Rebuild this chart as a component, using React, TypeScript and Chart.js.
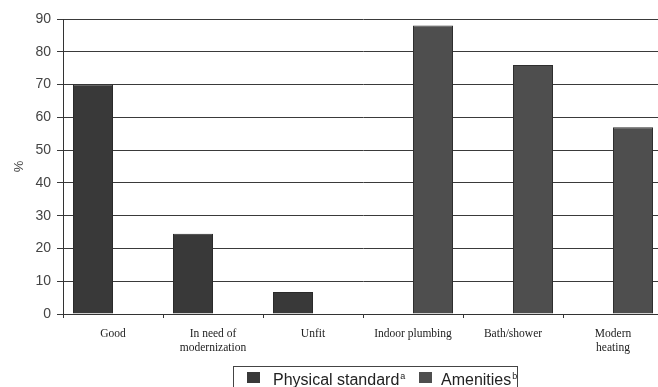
import React, { useEffect, useRef } from "react";
import { Chart, registerables } from "chart.js";

Chart.register(...registerables);

const categories: (string | string[])[] = [
  "Good",
  ["In need of", "modernization"],
  "Unfit",
  "Indoor plumbing",
  "Bath/shower",
  ["Modern", "heating"],
];
const physicalStandard: (number | null)[] = [70, 24.5, 6.7, null, null, null];
const amenities: (number | null)[] = [null, null, null, 88, 76, 57];
const yTicks = [0, 10, 20, 30, 40, 50, 60, 70, 80, 90];

export default function App() {
  const ref = useRef<HTMLCanvasElement | null>(null);

  useEffect(() => {
    if (!ref.current) return;
    const chart = new Chart(ref.current, {
      type: "bar",
      data: {
        labels: categories,
        datasets: [
          {
            label: "Physical standard",
            data: physicalStandard,
            backgroundColor: "#393939",
            borderColor: "#2a2a2a",
            borderWidth: 1,
            categoryPercentage: 0.8,
            barPercentage: 1.0,
          },
          {
            label: "Amenities",
            data: amenities,
            backgroundColor: "#4e4e4e",
            borderColor: "#2e2e2e",
            borderWidth: 1,
            categoryPercentage: 0.8,
            barPercentage: 1.0,
          },
        ],
      },
      options: {
        animation: false,
        responsive: false,
        maintainAspectRatio: false,
        layout: { padding: { top: 19, right: 2, bottom: 0, left: 0 } },
        plugins: {
          legend: { display: false },
          tooltip: { enabled: false },
        },
        scales: {
          x: {
            offset: true,
            grid: {
              display: true,
              offset: true,
              drawOnChartArea: false,
              drawTicks: true,
              tickLength: 4,
              color: "#333",
            },
            border: { display: true, color: "#333", width: 1 },
            ticks: {
              color: "#222",
              font: { family: "'Liberation Serif', 'Times New Roman', serif", size: 11.5 },
              padding: 9,
              maxRotation: 0,
              autoSkip: false,
            },
            afterFit: (s: any) => {
              s.height = 387 - 314;
            },
          },
          y: {
            min: 0,
            max: 90,
            afterBuildTicks: (s: any) => {
              s.ticks = yTicks.map((v) => ({ value: v }));
            },
            grid: {
              color: "#3a3a3a",
              lineWidth: 1,
              tickLength: 6,
            },
            border: { display: true, color: "#333", width: 1 },
            ticks: {
              color: "#444",
              font: { family: "'Liberation Sans', Arial, sans-serif", size: 14 },
              padding: 6,
            },
            title: {
              display: true,
              text: "%",
              color: "#444",
              font: { family: "'Liberation Sans', Arial, sans-serif", size: 13 },
              padding: { top: 12, bottom: 0 },
            },
            afterFit: (s: any) => {
              s.width = 63;
            },
          },
        },
      },
    });
    return () => chart.destroy();
  }, []);

  const legendFont = "'Liberation Sans', Arial, sans-serif";
  const textStyle: React.CSSProperties = {
    position: "absolute",
    top: 4,
    lineHeight: "18px",
    whiteSpace: "nowrap",
  };
  const supStyle: React.CSSProperties = {
    fontSize: 9,
    position: "relative",
    top: -6,
    marginLeft: 1,
  };
  return (
    <div style={{ position: "fixed", left: 0, top: 0, width: 665, height: 387, background: "#fff" }}>
      <canvas ref={ref} width={665} height={387} style={{ display: "block" }} />
      <div
        style={{
          position: "absolute",
          left: 233,
          top: 366,
          width: 285,
          height: 30,
          border: "1px solid #444",
          boxSizing: "border-box",
          fontFamily: legendFont,
          fontSize: 16,
          color: "#222",
        }}
      >
        <span style={{ position: "absolute", left: 13, top: 5, width: 13, height: 11, background: "#393939" }} />
        <span style={{ ...textStyle, left: 39 }}>
          Physical standard<span style={supStyle}>a</span>
        </span>
        <span style={{ position: "absolute", left: 185, top: 5, width: 13, height: 11, background: "#4e4e4e" }} />
        <span style={{ ...textStyle, left: 207 }}>
          Amenities<span style={supStyle}>b</span>
        </span>
      </div>
    </div>
  );
}
